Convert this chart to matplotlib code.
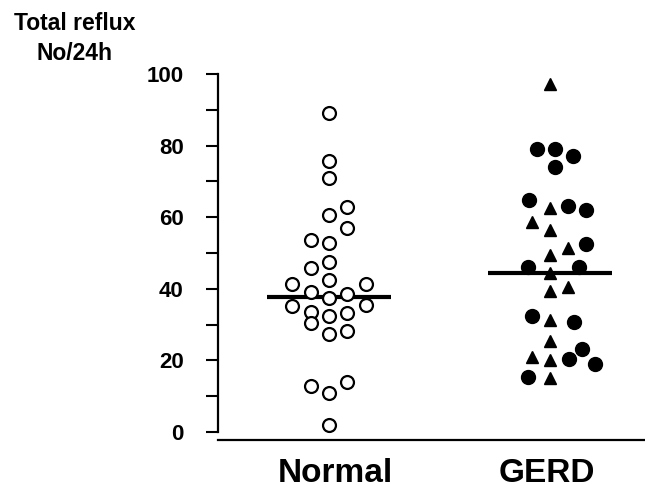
import numpy as np
import matplotlib
matplotlib.use('Agg')
import matplotlib.pyplot as plt
import matplotlib.transforms as mtransforms

# values, with the column slot of each point in the swarm
normal_vals = [89.0, 75.8, 70.9, 62.8, 60.6, 56.9, 53.6, 52.7, 47.6, 45.7,
               42.5, 41.3, 41.3, 39.2, 38.5, 37.3, 35.5, 35.2, 33.6, 33.3,
               32.4, 30.4, 28.3, 27.4, 14.1, 12.8, 10.8, 2.0]
normal_cols = [0, 0, 0, 1, 0, 1, -1, 0, 0, -1,
               0, -2, 2, -1, 1, 0, 2, -2, -1, 1,
               0, -1, 1, 0, 1, -1, 0, 0]

gerd_circle_vals = [79.0, 79.0, 77.1, 73.9, 64.9, 63.0, 62.0, 52.6, 46.0, 46.0,
                    32.4, 30.6, 23.2, 20.3, 19.0, 15.3]
gerd_circle_cols = [-0.7, 0.27, 1.27, 0.27, -1.13, 1.0, 1.95, 1.95, -1.22, 1.6,
                    -1.0, 1.33, 1.73, 1.05, 2.43, -1.2]

gerd_tri_vals = [97.2, 62.6, 58.7, 56.5, 51.5, 49.5, 44.3, 40.4, 39.4, 31.2,
                 25.4, 21.0, 20.2, 15.0]
gerd_tri_cols = [0, 0, -1, 0, 1, 0, 0, 1, 0, 0,
                 0, -1, 0, 0]

medians = [37.7, 44.5]
groups = ['Normal', 'GERD']

plt.rcParams['font.family'] = ['Liberation Sans', 'DejaVu Sans']
plt.rcParams['font.weight'] = 'bold'

step = 0.083  # width of one swarm column in x units

fig = plt.figure(figsize=(6.45, 4.92), dpi=100)
ax = fig.add_axes([218 / 645, 52 / 492, 427 / 645, 373.2 / 492])
ax.set_xlim(0.498, 2.43)
ax.set_ylim(-2.23, 102)

ax.plot(1 + step * np.array(normal_cols), normal_vals, 'o', ms=9.3,
        mfc='white', mec='black', mew=1.6, zorder=3)
ax.plot(2 + step * np.array(gerd_circle_cols), gerd_circle_vals, 'o', ms=10,
        mfc='black', mec='black', zorder=3)
ax.plot(2 + step * np.array(gerd_tri_cols), gerd_tri_vals, '^', ms=8.5,
        mfc='black', mec='black', zorder=3)

for i, m in enumerate(medians):
    ax.hlines(m, i + 1 - 0.28, i + 1 + 0.28, color='black', lw=3, zorder=2)

for s in ['top', 'right']:
    ax.spines[s].set_visible(False)
ax.spines['left'].set_bounds(0, 100)
ax.spines['left'].set_linewidth(1.6)
ax.spines['bottom'].set_linewidth(1.6)

ax.set_yticks(range(0, 101, 20))
ax.set_yticks(range(10, 100, 20), minor=True)
ax.tick_params(axis='y', which='both', length=8.6, width=1.5, pad=16, labelsize=16)
ax.set_xticks([1, 2], groups)
ax.tick_params(axis='x', length=0, pad=13, labelsize=24)
# nudge the group names a little, as in the original
for lab, dx in zip(ax.get_xticklabels(), [6, -3]):
    lab.set_transform(lab.get_transform() +
                      mtransforms.ScaledTranslation(dx / 100, 0, fig.dpi_scale_trans))

fig.text(75 / 645, 1 - 12 / 492, 'Total reflux\nNo/24h', ha='center', va='top',
         fontsize=16.5, linespacing=1.38, fontweight='bold')

fig.savefig('out.png', dpi=100)
